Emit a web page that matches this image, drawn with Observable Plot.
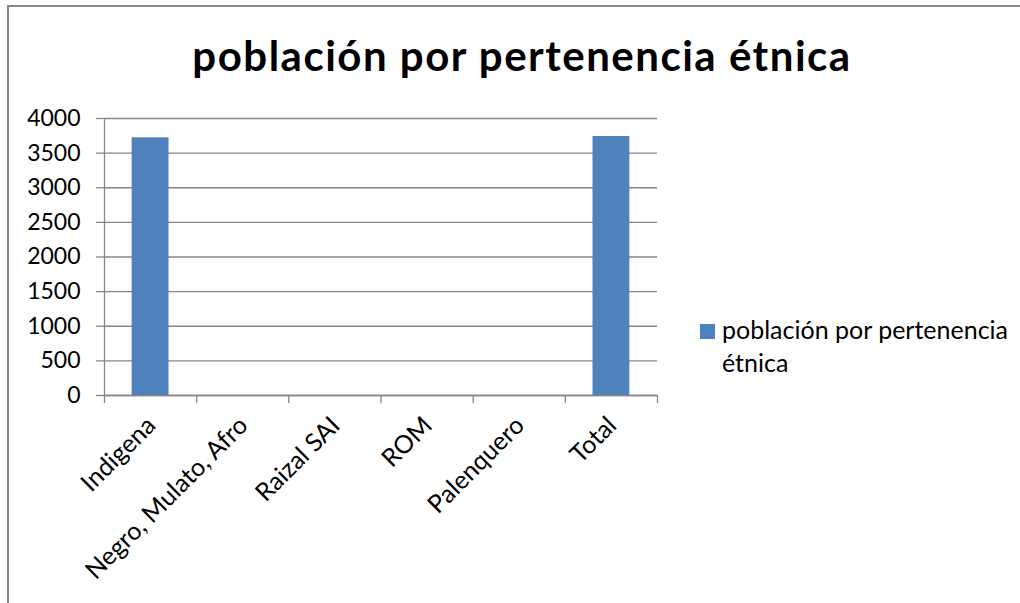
<!DOCTYPE html>
<html>
<head>
<meta charset="utf-8">
<script src="https://cdn.jsdelivr.net/npm/d3@7"></script>
<script src="https://cdn.jsdelivr.net/npm/@observablehq/plot@0.6"></script>
<style>
  html, body { margin: 0; padding: 0; background: #fff; }
  #wrap { position: relative; width: 1020px; height: 603px; overflow: hidden; font-family: Lato, "Open Sans", sans-serif; }
  #border { position: absolute; left: 7px; top: 5px; width: 1100px; height: 700px; border: 2px solid #878787; box-sizing: border-box; }
  #title { position: absolute; left: 0; width: 1044px; top: 30px; text-align: center; font-size: 42px; letter-spacing: 1.5px; font-weight: bold; color: #000; line-height: 50px; white-space: nowrap; }
  #legend { position: absolute; left: 700px; top: 313px; font-size: 25px; line-height: 33px; color: #000; }
  #legend .sw { position: absolute; left: 0; top: 11px; width: 15px; height: 15px; background: #4F81BD; }
  #legend .tx { position: absolute; left: 22px; top: 0; white-space: nowrap; }
  #chart { position: absolute; left: 0; top: 0; }
</style>
</head>
<body>
<div id="wrap">
  <div id="chart"></div>
  <div id="border"></div>
  <div id="title"></div>
  <div id="legend"><div class="sw"></div><div class="tx"></div></div>
</div>
<script>
const chartTitle = "población por pertenencia étnica";
const seriesName = "población por pertenencia étnica";
const categories = ["Indigena", "Negro, Mulato, Afro", "Raizal SAI", "ROM", "Palenquero", "Total"];
const values = [3721, 0, 0, 0, 0, 3740];
const yTicks = [0, 500, 1000, 1500, 2000, 2500, 3000, 3500, 4000];

const data = categories.map((c, i) => ({category: c, value: values[i], idx: i}));
const boundaries = d3.range(categories.length + 1);

document.getElementById("title").textContent = chartTitle;
document.querySelector("#legend .tx").innerHTML = "población por pertenencia<br>étnica";

const gridColor = "#868686";

const plot = Plot.plot({
  width: 1020,
  height: 603,
  marginLeft: 104,
  marginRight: 363,
  marginTop: 118,
  marginBottom: 208,
  style: {fontFamily: "Lato, 'Open Sans', sans-serif", fontSize: "23px", color: "#000", background: "transparent"},
  x: {domain: [0, categories.length], axis: null},
  y: {domain: [0, 4000], axis: null},
  marks: [
    Plot.ruleY(yTicks, {x1: 0, x2: categories.length, stroke: gridColor, strokeWidth: 1.3}),
    Plot.axisY({ticks: yTicks, tickSize: 8, tickPadding: 16, tickFormat: d => String(d), stroke: gridColor, strokeWidth: 1.3, strokeOpacity: 1, fill: "#000", fontSize: 23, label: null}),
    Plot.axisX({ticks: boundaries, tickSize: 8, tickFormat: () => "", stroke: gridColor, strokeWidth: 1.3, strokeOpacity: 1, label: null}),
    Plot.rectY(data, {x1: d => d.idx + 0.3, x2: d => d.idx + 0.7, y1: 0, y2: "value", fill: "#4F81BD"}),
    Plot.ruleX([0], {y1: 0, y2: 4000, stroke: gridColor, strokeWidth: 1.3}),
    Plot.ruleY([0], {x1: 0, x2: categories.length, stroke: gridColor, strokeWidth: 1.3}),
    Plot.text(data, {x: d => d.idx + 0.5, y: 0, text: "category", rotate: -45, textAnchor: "end", lineAnchor: "top", dx: -6, dy: 19, fontSize: 25, fill: "#000"})
  ]
});
document.getElementById("chart").appendChild(plot);
</script>
</body>
</html>
